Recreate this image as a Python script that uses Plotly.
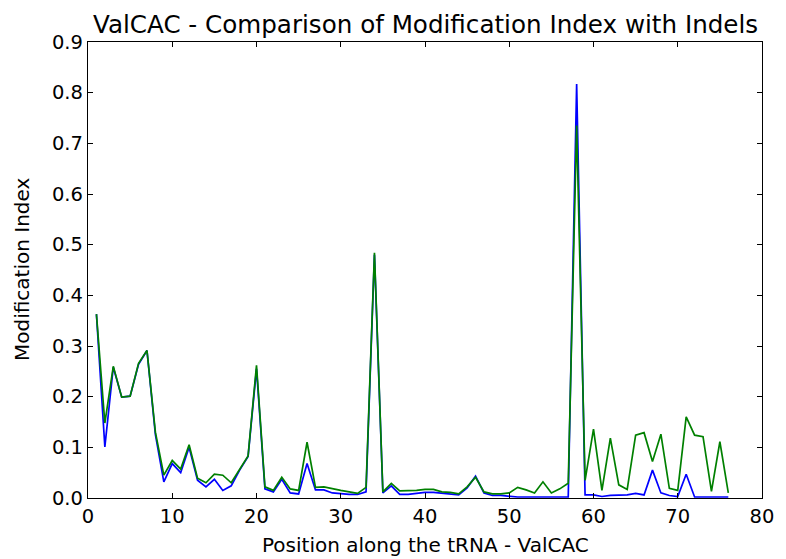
import plotly.graph_objects as go

positions = list(range(1, 77))

mod_index = [
    0.363, 0.101, 0.258, 0.199, 0.201, 0.264, 0.291, 0.125, 0.032, 0.068,
    0.050, 0.100, 0.035, 0.022, 0.037, 0.015, 0.024, 0.055, 0.082, 0.255,
    0.018, 0.012, 0.037, 0.010, 0.008, 0.068, 0.016, 0.016, 0.010, 0.008,
    0.007, 0.007, 0.012, 0.480, 0.010, 0.024, 0.007, 0.007, 0.009, 0.011,
    0.011, 0.009, 0.008, 0.006, 0.020, 0.043, 0.010, 0.005, 0.005, 0.003,
    0.002, 0.002, 0.002, 0.002, 0.002, 0.002, 0.002, 0.817, 0.006, 0.006,
    0.003, 0.005, 0.005, 0.006, 0.009, 0.006, 0.055, 0.010, 0.005, 0.003,
    0.047, 0.002, 0.002, 0.002, 0.002, 0.002,
]

mod_index_indels = [
    0.363, 0.148, 0.260, 0.199, 0.201, 0.266, 0.291, 0.130, 0.045, 0.074,
    0.057, 0.105, 0.039, 0.030, 0.047, 0.045, 0.030, 0.057, 0.083, 0.262,
    0.022, 0.015, 0.041, 0.018, 0.015, 0.110, 0.021, 0.022, 0.018, 0.015,
    0.012, 0.009, 0.021, 0.484, 0.012, 0.029, 0.014, 0.014, 0.015, 0.017,
    0.017, 0.012, 0.011, 0.008, 0.022, 0.041, 0.012, 0.008, 0.008, 0.010,
    0.021, 0.016, 0.010, 0.032, 0.010, 0.018, 0.029, 0.735, 0.035, 0.136,
    0.015, 0.118, 0.026, 0.017, 0.124, 0.129, 0.072, 0.126, 0.019, 0.015,
    0.160, 0.124, 0.121, 0.013, 0.111, 0.010,
]

x_ticks = [0, 10, 20, 30, 40, 50, 60, 70, 80]
y_ticks = [0.0, 0.1, 0.2, 0.3, 0.4, 0.5, 0.6, 0.7, 0.8, 0.9]

FONT = "DejaVu Sans"

fig = go.Figure()
fig.add_trace(go.Scatter(x=positions, y=mod_index, mode="lines",
                         line=dict(color="#0000ff", width=1.7),
                         name="Modification Index", showlegend=False))
fig.add_trace(go.Scatter(x=positions, y=mod_index_indels, mode="lines",
                         line=dict(color="#008000", width=1.7),
                         name="Modification Index with Indels", showlegend=False))

axis_common = dict(
    showgrid=False, zeroline=False, showline=True, linecolor="black",
    linewidth=1.3, mirror="ticks", ticks="inside", ticklen=5, tickwidth=1,
    tickcolor="black", tickfont=dict(family=FONT, size=19.5, color="black"),
)

fig.update_layout(
    width=786, height=559,
    margin=dict(l=88, r=14, t=42, b=61),
    paper_bgcolor="white", plot_bgcolor="white",
    font=dict(family=FONT, color="black"),
    xaxis=dict(range=[0, 80], tickvals=x_ticks,
               ticktext=[str(v) for v in x_ticks], **axis_common),
    yaxis=dict(range=[0, 0.9], tickvals=y_ticks,
               ticktext=[f"{v:.1f}" for v in y_ticks], **axis_common),
    annotations=[
        dict(text="ValCAC - Comparison of Modification Index with Indels",
             xref="paper", yref="paper", x=0.5, y=1, yshift=18,
             xanchor="center", yanchor="middle", showarrow=False,
             font=dict(family=FONT, size=24.6, color="black")),
        dict(text="Position along the tRNA - ValCAC",
             xref="paper", yref="paper", x=0.5, y=0, yshift=-47,
             xanchor="center", yanchor="middle", showarrow=False,
             font=dict(family=FONT, size=20, color="black")),
        dict(text="Modification Index", textangle=-90,
             xref="paper", yref="paper", x=0, y=0.5, xshift=-66,
             xanchor="center", yanchor="middle", showarrow=False,
             font=dict(family=FONT, size=20, color="black")),
    ],
)

fig.write_html("out.html", config={"displayModeBar": False},
               post_script="document.body.style.margin='0';document.body.style.padding='0';")
